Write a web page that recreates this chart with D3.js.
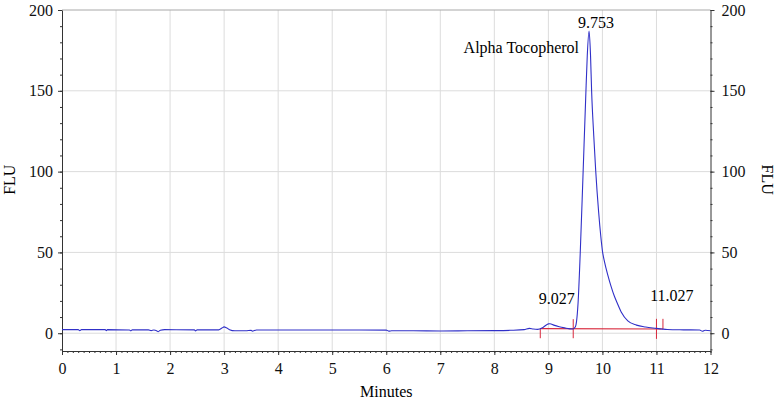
<!DOCTYPE html>
<html>
<head>
<meta charset="utf-8">
<script src="https://cdn.jsdelivr.net/npm/d3@7"></script>
<style>
	body { margin: 0; background: #fff; }
	svg { display: block; }
	.axis path, .axis line { stroke: #333; }
	.minor path { display: none; }
</style>
</head>
<body>
<div id="chart"></div>
<script>
// retention time (min) and detector response (FLU)
const times = [0, 0.3, 0.33, 0.36, 0.8, 0.82, 0.84, 1.25, 1.27, 1.3, 1.6, 1.65, 1.7, 1.75, 1.78, 1.82, 1.9,
	2.45, 2.47, 2.5, 2.9, 2.96, 3.0, 3.04, 3.1, 3.2, 3.4, 3.5, 3.52, 3.6, 4.0, 5.0, 5.5, 6.0, 6.05, 6.1,
	6.5, 7.0, 7.5, 8.0, 8.3, 8.55, 8.65, 8.72, 8.8, 8.9, 9.0, 9.03, 9.1, 9.2, 9.3, 9.45, 9.5, 9.52, 9.55,
	9.59, 9.64, 9.69, 9.72, 9.753, 9.78, 9.8, 9.84, 9.875, 9.93, 9.97, 10.0, 10.04, 10.1, 10.16, 10.22,
	10.27, 10.35, 10.47, 10.63, 10.8, 11.0, 11.1, 11.2, 11.5, 11.8, 11.85, 11.9, 12]
const flu = [2.2, 2.2, 1.5, 2.2, 2.2, 1.6, 2.2, 2.0, 1.5, 2.1, 2.1, 1.6, 2.0, 1.6, 1.0, 1.8, 2.2,
	2.1, 1.4, 2.1, 2.1, 3.2, 3.9, 3.4, 2.2, 1.5, 1.5, 1.8, 1.3, 2.0, 2.0, 2.0, 2.0, 1.9, 1.3, 1.5,
	1.5, 1.4, 1.5, 1.6, 1.8, 2.2, 3.0, 2.6, 2.4, 3.6, 5.8, 5.9, 5.0, 4.0, 3.3, 2.6, 4.0, 7, 19,
	50, 97, 145, 172, 187, 172, 150, 122, 101, 75, 60, 51, 44, 36, 29, 23,
	19, 13, 7.6, 5.0, 3.8, 3.0, 2.6, 2.3, 2.1, 2.0, 1.2, 1.8, 1.5]

// peak annotations
const peakTimes = [9.027, 9.753, 11.027]
const peakLabels = ['9.027', '9.753', '11.027']
const peakNames = ['', 'Alpha Tocopherol', '']

// integration baseline and event marks
const baseStart = [8.85, 2.8]
const baseEnd = [11.12, 2.6]
const markTimes = [8.85, 9.46, 11.0, 11.12]
const markTop = [2.8, 8.7, 8.9, 8.9]
const markBottom = [-3.1, -3.1, -3.5, 2.6]

const xTicks = d3.range(0, 13)
const yTicks = [0, 50, 100, 150, 200]

const width = 777
const height = 401
const margin = { top: 10, right: 66.5, bottom: 50, left: 62 }
const font = "'Liberation Serif', 'Times New Roman', serif"

const x = d3.scaleLinear().domain([0, 12]).range([margin.left, width - margin.right])
const y = d3.scaleLinear().domain([-11, 200]).range([height - margin.bottom, margin.top])

const svg = d3.select('#chart').append('svg').attr('width', width).attr('height', height)
	.attr('font-family', font)

//grid
const grid = svg.append('g')
grid.selectAll('.vgrid')
	.data(xTicks.slice(1, -1))
	.enter()
	.append('line')
	.attr('x1', d => x(d)).attr('x2', d => x(d))
	.attr('y1', y(200)).attr('y2', y(-11))
	.attr('stroke', '#dcdcdc')
grid.selectAll('.hgrid')
	.data(yTicks)
	.enter()
	.append('line')
	.attr('x1', x(0)).attr('x2', x(12))
	.attr('y1', d => y(d)).attr('y2', d => y(d))
	.attr('stroke', d => (d === 200 ? '#a8a8a8' : '#dcdcdc'))

// minor ticks
svg.append('g').attr('class', 'axis minor')
	.attr('transform', `translate(0,${y(-11)})`)
	.call(d3.axisBottom(x).tickValues(d3.range(0, 121).map(i => i / 10)).tickSize(2).tickFormat(''))
svg.append('g').attr('class', 'axis minor')
	.attr('transform', `translate(${x(0)},0)`)
	.call(d3.axisLeft(y).tickValues(d3.range(-10, 201, 10)).tickSize(2).tickFormat(''))
svg.append('g').attr('class', 'axis minor')
	.attr('transform', `translate(${x(12)},0)`)
	.call(d3.axisRight(y).tickValues(d3.range(-10, 201, 10)).tickSize(2).tickFormat(''))

// major axes
const styleAxis = g => g.attr('font-family', font).attr('font-size', 16)
	.selectAll('text').attr('fill', '#111')
svg.append('g').attr('class', 'axis')
	.attr('transform', `translate(0,${y(-11)})`)
	.call(d3.axisBottom(x).tickValues(xTicks).tickSize(4).tickSizeOuter(0).tickPadding(8))
	.call(styleAxis)
svg.append('g').attr('class', 'axis')
	.attr('transform', `translate(${x(0)},0)`)
	.call(d3.axisLeft(y).tickValues(yTicks).tickSize(4).tickSizeOuter(0).tickPadding(5))
	.call(styleAxis)
svg.append('g').attr('class', 'axis')
	.attr('transform', `translate(${x(12)},0)`)
	.call(d3.axisRight(y).tickValues(yTicks).tickSize(4).tickSizeOuter(0).tickPadding(7))
	.call(styleAxis)

// axis titles
svg.append('text')
	.attr('x', (x(0) + x(12)) / 2).attr('y', 397)
	.attr('text-anchor', 'middle').attr('font-size', 16)
	.text('Minutes')
svg.append('text')
	.attr('transform', `translate(15,${y(95)}) rotate(-90)`)
	.attr('text-anchor', 'middle').attr('font-size', 16)
	.text('FLU')
svg.append('text')
	.attr('transform', `translate(762,${y(95)}) rotate(90)`)
	.attr('text-anchor', 'middle').attr('font-size', 16)
	.text('FLU')

// integration marks
const red = '#d8283c'
svg.append('line')
	.attr('x1', x(baseStart[0])).attr('y1', y(baseStart[1]))
	.attr('x2', x(baseEnd[0])).attr('y2', y(baseEnd[1]))
	.attr('stroke', red).attr('stroke-width', 1.2)
svg.selectAll('.mark')
	.data(markTimes)
	.enter()
	.append('line')
	.attr('x1', d => x(d)).attr('x2', d => x(d))
	.attr('y1', (d, i) => y(markTop[i])).attr('y2', (d, i) => y(markBottom[i]))
	.attr('stroke', red).attr('stroke-width', 1)

// trace
const points = times.map((t, i) => [t, flu[i]])
const line = d3.line().x(d => x(d[0])).y(d => y(d[1])).curve(d3.curveMonotoneX)
svg.append('path')
	.datum(points)
	.attr('fill', 'none')
	.attr('stroke', '#3030c8')
	.attr('stroke-width', 1.1)
	.attr('d', line)

// peak labels
const labelAt = t => {
	const i = d3.bisectLeft(times, t)
	return d3.max(flu.slice(Math.max(0, i - 1), i + 1))
}
svg.selectAll('.plabel')
	.data(peakTimes)
	.enter()
	.append('text')
	.attr('x', (d, i) => x(d) + (i === 2 ? 14 : 7))
	.attr('y', d => y(labelAt(d)) - (d > 11 ? 27 : 20) + (d === 9.753 ? 17 : 0))
	.attr('text-anchor', 'middle')
	.attr('font-size', 16)
	.text((d, i) => peakLabels[i])
svg.selectAll('.pname')
	.data(peakTimes.filter((d, i) => peakNames[i]))
	.enter()
	.append('text')
	.attr('x', d => x(d) - 10)
	.attr('y', d => y(labelAt(d)) + 22)
	.attr('text-anchor', 'end')
	.attr('font-size', 16)
	.text(d => peakNames[peakTimes.indexOf(d)])
</script>
</body>
</html>
